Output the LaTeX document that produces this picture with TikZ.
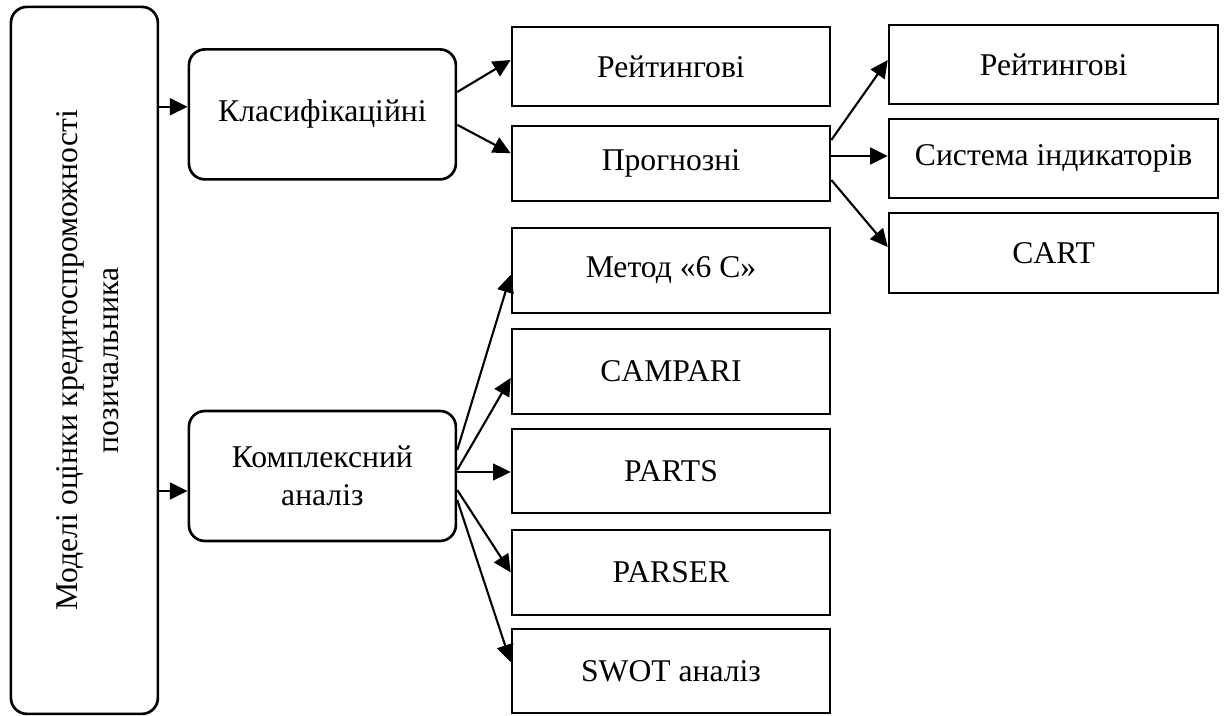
\documentclass[tikz,border=0pt]{standalone}
\usepackage{fontspec}
\setmainfont{Liberation Serif}
\usetikzlibrary{arrows.meta}
\begin{document}
\begin{tikzpicture}[
    box/.style={draw,line width=1.9pt,inner sep=0pt,minimum width=7.95cm},
    rbox/.style={draw,line width=1.9pt,rounded corners=.4cm,inner sep=0pt,align=center,minimum width=6.675cm,minimum height=3.25cm},
    arr/.style={line width=1.5pt,-{Triangle[length=4.4mm,width=4.2mm]}},
    font=\fontsize{22.5}{27}\selectfont]
			    \useasboundingbox (0,0) rectangle (30.625,17.9);
			    \node [draw,line width=1.9pt,rounded corners=.4cm,minimum width=3.675cm,minimum height=17.675cm,inner sep=0pt] (model) at (2.11,8.89) {};
			    \node [rotate=90,align=center,font=\fontsize{22.5}{29.5}\selectfont] (modeltext) at ([xshift=.08cm]model.center) {Моделі оцінки кредитоспроможності\\позичальника};
			    \node [rbox] (klas) at (8.06,15.04) {Класифікаційні};
			    \node [rbox] (komp) at (8.06,6.0) {Комплексний\\аналіз};
			    \node [box,minimum height=1.975cm] (r1) at (16.775,16.24) {Рейтингові};
			    \node [box,minimum height=1.875cm] (prog) at (16.775,13.81) {Прогнозні};
			    \node [box,minimum height=2.125cm] (metod) at (16.775,11.14) {Метод «6 С»};
			    \node [box,minimum height=2.125cm] (campari) at (16.775,8.61) {CAMPARI};
			    \node [box,minimum height=2.1cm] (parts) at (16.775,6.125) {PARTS};
			    \node [box,minimum height=2.125cm] (parser) at (16.775,3.59) {PARSER};
			    \node [box,minimum height=2.1cm] (swot) at (16.775,1.125) {SWOT аналіз};
			    \node [box,minimum width=8.225cm,minimum height=1.975cm] (r2) at (26.34,16.29) {Рейтингові};
			    \node [box,minimum width=8.225cm,minimum height=1.975cm] (sys) at (26.34,13.94) {Система індикаторів};
			    \node [box,minimum width=8.225cm,minimum height=2cm] (cart) at (26.34,11.575) {CART};
			    \draw [arr] ([yshift=.19cm]klas.west -| model.east) -- ([yshift=.19cm]klas.west);
			    \draw [arr] ([yshift=-.375cm]komp.west -| model.east) -- ([yshift=-.375cm]komp.west);
			    \draw [arr] ([yshift=.56cm]klas.east) -- ([yshift=.16cm]r1.west);
			    \draw [arr] ([yshift=-.26cm]klas.east) -- ([yshift=.26cm]prog.west);
			    \draw [arr] ([yshift=.59cm]prog.east) -- ([yshift=.11cm]r2.west);
			    \draw [arr] ([yshift=.19cm]prog.east) -- ([yshift=.19cm]prog.east -| sys.west);
			    \draw [arr] ([yshift=-.41cm]prog.east) -- ([yshift=.15cm]cart.west);
			    \draw [arr] ([yshift=.65cm]komp.east) -- ([yshift=-.11cm]metod.west);
			    \draw [arr] ([yshift=.15cm]komp.east) -- ([yshift=-.16cm]campari.west);
			    \draw [arr] ([yshift=.1cm]komp.east) -- ([yshift=.1cm]komp.east -| parts.west);
			    \draw [arr] ([yshift=-.35cm]komp.east) -- (parser.west);
			    \draw [arr] ([yshift=-.6cm]komp.east) -- ([yshift=.22cm]swot.west);
\end{tikzpicture}
\end{document}
